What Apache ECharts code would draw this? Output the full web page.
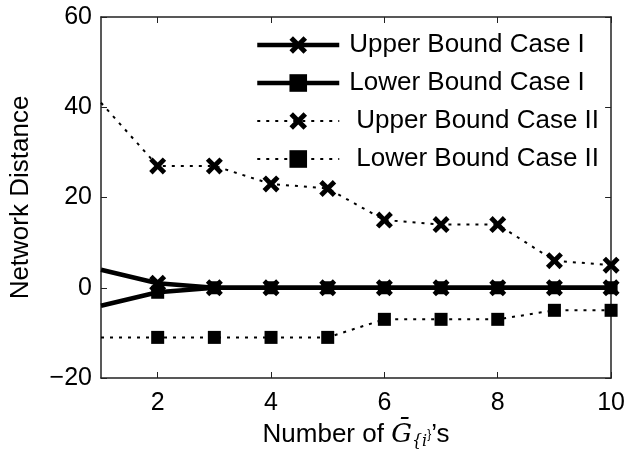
<!DOCTYPE html>
<html>
<head>
<meta charset="utf-8">
<script src="https://cdn.jsdelivr.net/npm/echarts@6/dist/echarts.min.js"></script>
<style>
  html, body { margin: 0; padding: 0; background: #fff; }
  #chart { width: 628px; height: 455px; }
</style>
</head>
<body>
<div id="chart"></div>
<script>
// Number of subgraphs on the x axis
const groupCounts = [1, 2, 3, 4, 5, 6, 7, 8, 9, 10];
// Bounds on the network distance
const upperBoundCaseI  = [4, 1, 0, 0, 0, 0, 0, 0, 0, 0];
const lowerBoundCaseI  = [-4, -1, 0, 0, 0, 0, 0, 0, 0, 0];
const upperBoundCaseII = [41, 27, 27, 23, 22, 15, 14, 14, 6, 5];
const lowerBoundCaseII = [-11, -11, -11, -11, -11, -7, -7, -7, -5, -5];
const seriesNames = ['Upper Bound Case I', 'Lower Bound Case I', 'Upper Bound Case II', 'Lower Bound Case II'];
const xTicks = [2, 4, 6, 8, 10];
const firstMarked = 2; // markers start from two subgraphs

const crossPath = 'path://M2,0 L5,3 L8,0 L10,2 L7,5 L10,8 L8,10 L5,7 L2,10 L0,8 L3,5 L0,2 Z';

function toData(values) {
  return groupCounts.map((n, i) => (
    n < firstMarked ? { value: [n, values[i]], symbolSize: 0 } : { value: [n, values[i]] }
  ));
}

const axisColor = '#222';
const fontFamily = 'Liberation Sans, Arial, Helvetica, sans-serif';
const solidLine = { color: '#000', width: 4.5, type: 'solid' };
const dottedLine = { color: '#000', width: 2, type: [3, 6], cap: 'butt' };

function makeSeries(name, values, solid, cross) {
  return {
    name: name,
    type: 'line',
    data: toData(values),
    symbol: cross ? crossPath : 'rect',
    symbolSize: cross ? 17 : 13,
    showAllSymbol: true,
    z: cross ? 4 : 3,
    itemStyle: { color: '#000' },
    lineStyle: solid ? solidLine : dottedLine,
    emphasis: { disabled: true },
    animation: false
  };
}

const chart = echarts.init(document.getElementById('chart'), null, { renderer: 'canvas' });

const baseX = {
  type: 'value', min: 1, max: 10,
  axisLine: { show: true, onZero: false, lineStyle: { color: axisColor, width: 1.5 } },
  axisTick: { show: true, inside: true, length: 6, customValues: xTicks, lineStyle: { color: axisColor, width: 1 } },
  splitLine: { show: false }
};
const baseY = {
  type: 'value', min: -20, max: 60, interval: 20,
  axisLine: { show: true, onZero: false, lineStyle: { color: axisColor, width: 1.5 } },
  axisTick: { show: true, inside: true, length: 6, lineStyle: { color: axisColor, width: 1 } },
  splitLine: { show: false }
};

chart.setOption({
  backgroundColor: '#fff',
  animation: false,
  grid: { left: 99, right: 16, top: 17, bottom: 77, containLabel: false },
  xAxis: [
    Object.assign({}, baseX, {
      position: 'bottom',
      axisLabel: { show: true, customValues: xTicks, margin: 13, color: '#000', fontSize: 25, fontFamily: fontFamily },
      name: '{t|Number of }{g|Ḡ}{s|{i}}{t|’s}',
      nameLocation: 'middle',
      nameGap: 42,
      nameTextStyle: {
        color: '#000', fontFamily: fontFamily,
        rich: {
          t: { fontSize: 26, color: '#000', fontFamily: fontFamily },
          g: { fontSize: 26, color: '#000', fontStyle: 'italic', fontFamily: 'DejaVu Serif, serif' },
          s: { fontSize: 16, color: '#000', fontStyle: 'italic', fontFamily: 'DejaVu Serif, serif', padding: [14, 0, 0, 0] }
        }
      }
    }),
    Object.assign({}, baseX, { position: 'top', axisLabel: { show: false } })
  ],
  yAxis: [
    Object.assign({}, baseY, {
      position: 'left',
      axisLabel: {
        show: true, margin: 9, color: '#000', fontSize: 25, fontFamily: fontFamily,
        formatter: v => String(v).replace('-', '−')
      },
      name: 'Network Distance',
      nameLocation: 'middle',
      nameGap: 67,
      nameRotate: 90,
      nameTextStyle: { color: '#000', fontSize: 26, fontFamily: fontFamily }
    }),
    Object.assign({}, baseY, { position: 'right', axisLabel: { show: false } })
  ],
  legend: {
    left: 255,
    top: 32,
    padding: 0,
    orient: 'vertical',
    itemWidth: 82,
    itemHeight: 22,
    itemGap: 12,
    selectedMode: false,
    data: seriesNames.map((name, i) => ({
      name: name,
      lineStyle: i < 2 ? solidLine : dottedLine
    })),
    textStyle: {
      color: '#000', fontSize: 26, lineHeight: 26, fontFamily: fontFamily,
      rich: { a: { width: 5 }, b: { width: 12 } }
    },
    formatter: function (name) {
      return (name.endsWith('II') ? '{b|}' : '{a|}') + name;
    }
  },
  series: [
    makeSeries(seriesNames[1], lowerBoundCaseI, true, false),
    makeSeries(seriesNames[0], upperBoundCaseI, true, true),
    makeSeries(seriesNames[2], upperBoundCaseII, false, true),
    makeSeries(seriesNames[3], lowerBoundCaseII, false, false)
  ]
});
</script>
</body>
</html>
